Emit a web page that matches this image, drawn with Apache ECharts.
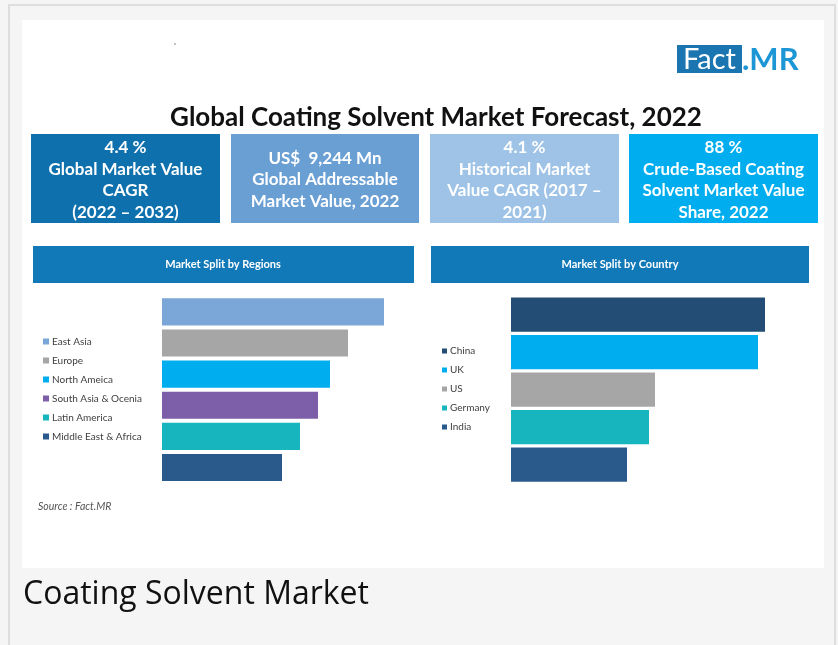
<!DOCTYPE html>
<html>
<head>
<meta charset="utf-8">
<script src="https://cdn.jsdelivr.net/npm/echarts@6/dist/echarts.min.js"></script>
<style>
html,body{margin:0;padding:0;background:#f5f5f5;}
#c{width:838px;height:645px;}
</style>
</head>
<body>
<div id="c"></div>
<script>
// ---- data ----
var regionNames = ['East Asia', 'Europe', 'North Ameica', 'South Asia & Ocenia', 'Latin America', 'Middle East & Africa'];
var regionValues = [222, 186, 168, 156, 138, 120];
var regionColors = ['#7aa7d8', '#a6a6a6', '#00aeef', '#7d5fa9', '#17b5bd', '#2a5a8c'];

var countryNames = ['China', 'UK', 'US', 'Germany', 'India'];
var countryValues = [254, 247, 144, 138, 116];
var countryColors = ['#234d75', '#00aeef', '#a6a6a6', '#17b5bd', '#2a5a8c'];

var kpiLines = [
  ['4.4 %', 'Global Market Value', 'CAGR', '(2022 \u2013 2032)'],
  ['US$  9,244 Mn', 'Global Addressable', 'Market Value, 2022'],
  ['4.1 %', 'Historical Market', 'Value CAGR (2017 \u2013', '2021)'],
  ['88 %', 'Crude-Based Coating', 'Solvent Market Value', 'Share, 2022']
];

var FONT = 'Lato, "Open Sans", sans-serif';

function stackSeries(names, values, colors, axisIdx, gap) {
  return names.map(function (n, i) {
    return {
      name: n, type: 'bar', stack: 's' + axisIdx,
      xAxisIndex: axisIdx, yAxisIndex: axisIdx,
      barCategoryGap: gap, silent: true,
      itemStyle: { color: colors[i] },
      data: values.map(function (v, j) { return j === i ? v : '-'; })
    };
  });
}

var kpiBoxes = [
  { x: 31, w: 189, color: '#0e70ad' },
  { x: 231, w: 188, color: '#6a9fd4' },
  { x: 430, w: 189, color: '#9ec3e6' },
  { x: 629, w: 189, color: '#00aeef' }
];

var graphics = [
  // outer frame
  { type: 'rect', shape: { x: 9, y: 5, width: 826, height: 660 }, style: { fill: '#f5f5f5', stroke: '#dedede', lineWidth: 2 }, z: -10 },
  { type: 'rect', shape: { x: 22, y: 20, width: 802, height: 548 }, style: { fill: '#ffffff' }, z: -9 },
  { type: 'circle', shape: { cx: 175, cy: 44, r: 0.8 }, style: { fill: '#777' } },
  // logo
  { type: 'rect', shape: { x: 677, y: 45, width: 65, height: 28 }, style: { fill: '#1a75b0' } },
  { type: 'text', x: 709.5, y: 60, style: { text: 'Fact', fill: '#ffffff', font: '29px ' + FONT, textAlign: 'center', textVerticalAlign: 'middle' } },
  { type: 'text', x: 742, y: 60, style: { text: '.MR', fill: '#1c96d4', font: 'bold 31px ' + FONT, textAlign: 'left', textVerticalAlign: 'middle' } },
  // title
  { type: 'text', x: 436, y: 118, style: { text: 'Global Coating Solvent Market Forecast, 2022', fill: '#111', font: 'bold 26px ' + FONT, textAlign: 'center', textVerticalAlign: 'middle' } },
  // section headers
  { type: 'rect', shape: { x: 33, y: 246, width: 381, height: 37 }, style: { fill: '#1279b9' } },
  { type: 'text', x: 223, y: 264.5, style: { text: 'Market Split by Regions', fill: '#ffffff', font: 'bold 11px ' + FONT, textAlign: 'center', textVerticalAlign: 'middle' } },
  { type: 'rect', shape: { x: 431, y: 246, width: 378, height: 37 }, style: { fill: '#1279b9' } },
  { type: 'text', x: 620, y: 264.5, style: { text: 'Market Split by Country', fill: '#ffffff', font: 'bold 11px ' + FONT, textAlign: 'center', textVerticalAlign: 'middle' } },
  // source
  { type: 'text', x: 38, y: 507, style: { text: 'Source : Fact.MR', fill: '#555', font: 'italic 10.5px ' + FONT, textAlign: 'left', textVerticalAlign: 'middle' } },
  // caption
  { type: 'text', x: 23, y: 595, style: { text: 'Coating Solvent Market', fill: '#111', font: '32px "Open Sans", sans-serif', textAlign: 'left', textVerticalAlign: 'middle' } }
];

kpiBoxes.forEach(function (b, i) {
  graphics.push({ type: 'rect', shape: { x: b.x, y: 134, width: b.w, height: 89 }, style: { fill: b.color } });
  var lines = kpiLines[i];
  var step = 21.8;
  var start = 180 - (lines.length - 1) * step / 2;
  lines.forEach(function (t, k) {
    graphics.push({ type: 'text', x: b.x + b.w / 2, y: start + k * step,
      style: { text: t, fill: '#ffffff', font: 'bold 17px ' + FONT, textAlign: 'center', textVerticalAlign: 'middle' } });
  });
});

var chart = echarts.init(document.getElementById('c'), null, { renderer: 'canvas' });
chart.setOption({
  backgroundColor: '#f5f5f5',
  animation: false,
  graphic: graphics,
  grid: [
    { left: 162, top: 296.3, width: 250, height: 186.8 },
    { left: 511, top: 295.8, width: 300, height: 187.5 }
  ],
  xAxis: [
    { type: 'value', gridIndex: 0, min: 0, max: 250, show: false },
    { type: 'value', gridIndex: 1, min: 0, max: 300, show: false }
  ],
  yAxis: [
    { type: 'category', gridIndex: 0, data: regionNames, inverse: true, show: false },
    { type: 'category', gridIndex: 1, data: countryNames, inverse: true, show: false }
  ],
  legend: [
    { data: regionNames, orient: 'vertical', left: 43, top: 336, padding: 0, icon: 'rect', itemWidth: 6, itemHeight: 6, itemGap: 8,
      selectedMode: false, textStyle: { fontFamily: FONT, fontSize: 10, color: '#404040', lineHeight: 11, padding: [0, 0, 0, -2] } },
    { data: countryNames, orient: 'vertical', left: 442, top: 345.5, padding: 0, icon: 'rect', itemWidth: 5, itemHeight: 5, itemGap: 8,
      selectedMode: false, textStyle: { fontFamily: FONT, fontSize: 10, color: '#404040', lineHeight: 11, padding: [0, 0, 0, -2] } }
  ],
  series: stackSeries(regionNames, regionValues, regionColors, 0, '13%')
    .concat(stackSeries(countryNames, countryValues, countryColors, 1, '8.5%'))
});
</script>
</body>
</html>
